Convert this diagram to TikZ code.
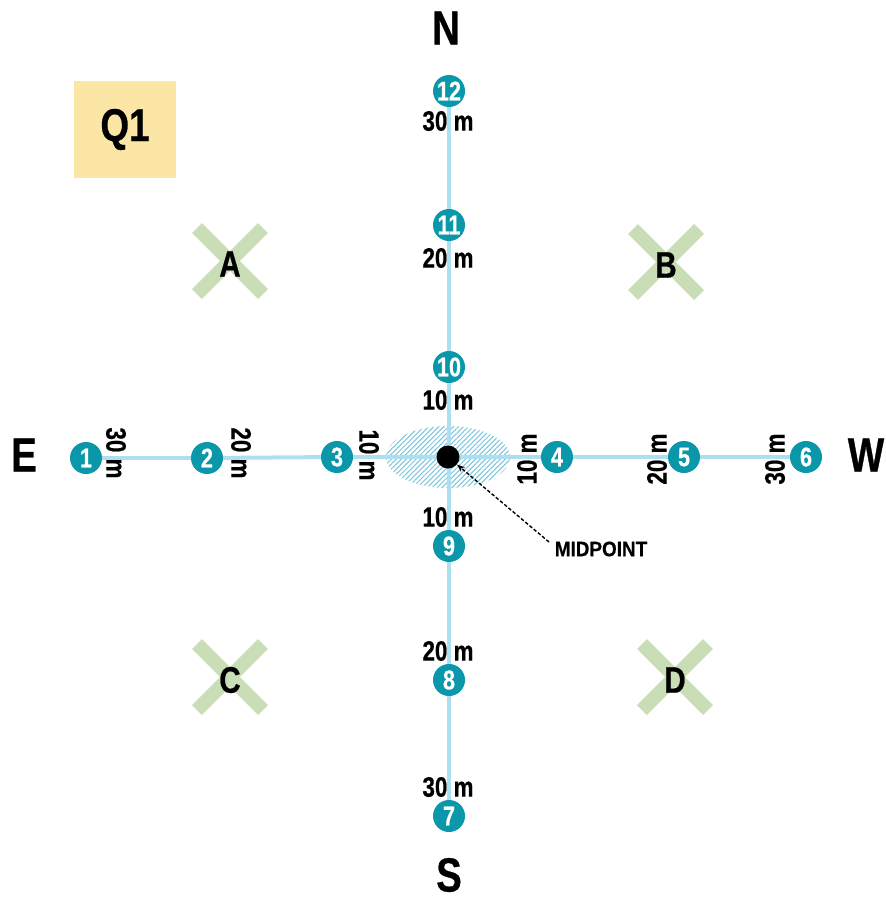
\documentclass[tikz,border=0pt]{standalone}
\usepackage{fontspec}
\setmainfont{Liberation Sans}
\newfontfamily\cond{Liberation Sans}[FakeStretch=0.8,FakeBold=0.6]
\newfontfamily\condm{Liberation Sans}[FakeStretch=0.9,FakeBold=0.4]
\usetikzlibrary{patterns.meta,arrows.meta}
\definecolor{lineblue}{HTML}{AEDFF0}
\definecolor{hatch}{HTML}{7CC6DE}
\definecolor{teal}{HTML}{0A97AA}
\definecolor{xgreen}{HTML}{C9DDB7}
\definecolor{qyellow}{HTML}{FCE6A6}
\tikzset{
  stn/.style={circle,fill=teal,text=white,inner sep=0pt,minimum size=32pt,font=\cond\bfseries\fontsize{27}{27}\selectfont},
  dist/.style={font=\cond\bfseries\fontsize{28}{28}\selectfont,inner sep=0pt},
  compass/.style={font=\cond\bfseries\fontsize{48}{48}\selectfont,inner sep=0pt},
  plot/.style={font=\cond\bfseries\fontsize{37}{37}\selectfont,inner sep=0pt},
  xmark/.style={xgreen,line width=14pt},
  trans/.style={lineblue,line width=4pt}
}
\begin{document}
\begin{tikzpicture}[x=1pt,y=-1pt]
\useasboundingbox[fill=white] (0,0) rectangle (886,900);
% Q1 box
\node[fill=qyellow,minimum width=102pt,minimum height=97pt,inner sep=0pt,font=\cond\bfseries\fontsize{46}{46}\selectfont] (q1) at (125,129.5) {Q1};
% X marks
\foreach \n/\x/\y in {A/230/261,B/666/262,C/230/677,D/675/677}{
  \draw[xmark] (\x-33,\y-33) -- (\x+33,\y+33);
  \draw[xmark] (\x-33,\y+33) -- (\x+33,\y-33);
  \node[plot] (plot\n) at (\x,\y+3) {\n};
}
% hatched ellipse
\path[pattern={Lines[angle=45,distance=3.5pt,line width=1pt]},pattern color=hatch] (448,457) ellipse [x radius=62, y radius=31];
% centre
\coordinate (mid) at (448,457);
% station positions
\foreach \s/\x/\y in {1/86/458,2/207/458,3/337/457,4/557/457,5/684/457,6/806/457,12/449/91,11/449/225,10/449/367,9/449/546,8/449/680,7/449/816}{
  \coordinate (p\s) at (\x,\y);
}
% transect lines
\draw[trans] (p1) -- (p2); \draw[trans] (p2) -- (p3); \draw[trans] (p3) -- (p4);
\draw[trans] (p4) -- (p5); \draw[trans] (p5) -- (p6);
\draw[trans] (p12) -- (p11); \draw[trans] (p11) -- (p10); \draw[trans] (p10) -- (p9);
\draw[trans] (p9) -- (p8); \draw[trans] (p8) -- (p7);
% stations
\foreach \s in {1,...,12}{
  \node[stn] (s\s) at (p\s) {\s};
}
% midpoint dot
\node[circle,fill=black,inner sep=0pt,minimum size=23pt] (dot) at (mid) {};
% distance labels vertical axis
\node[dist] (d12) at (448,121) {30 m};
\node[dist] (d11) at (448,258) {20 m};
\node[dist] (d10) at (448,400) {10 m};
\node[dist] (d9) at (448,517) {10 m};
\node[dist] (d8) at (448,651) {20 m};
\node[dist] (d7) at (448,787) {30 m};
% horizontal axis
\node[dist,rotate=-90] (d1) at (116,453) {30 m};
\node[dist,rotate=-90] (d2) at (241,453) {20 m};
\node[dist,rotate=-90] (d3) at (369,455) {10 m};
\node[dist,rotate=90] (d4) at (527,459) {10 m};
\node[dist,rotate=90] (d5) at (657,459) {20 m};
\node[dist,rotate=90] (d6) at (775,459) {30 m};
% compass
\node[compass] (N) at (446,28) {N};
\node[compass] (S) at (449,875) {S};
\node[compass] (E) at (24,455) {E};
\node[compass] (W) at (866,455) {W};
% midpoint label
\node[font=\condm\bfseries\fontsize{21}{21}\selectfont,inner sep=0pt] (ml) at (601,549) {MIDPOINT};
\coordinate (ms) at (549,542);
\draw[dash pattern=on 3.5pt off 2pt,line width=1.4pt,-{Stealth[length=8pt,width=6pt]}] (ms) -- (dot.-40);
\end{tikzpicture}
\end{document}
